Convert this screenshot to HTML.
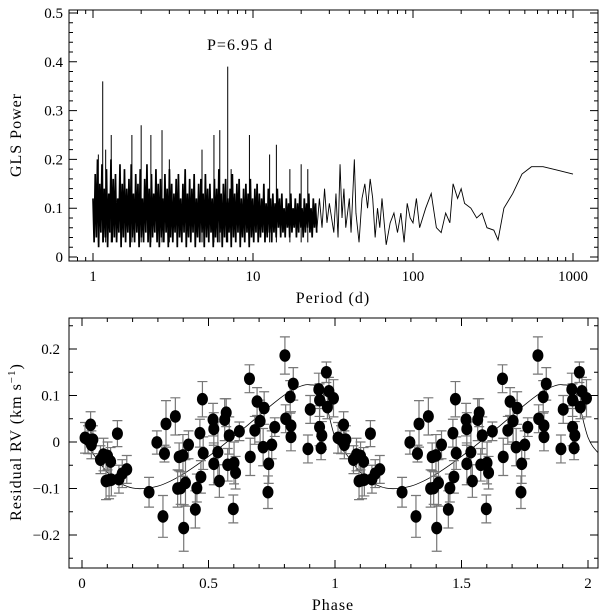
<!DOCTYPE html>
<html><head><meta charset="utf-8"><style>
html,body{margin:0;padding:0;background:#fff;}
svg{display:block;font-family:"Liberation Serif",serif;}
</style></head><body>
<svg id="chart" width="600" height="613" viewBox="0 0 600 613" xmlns="http://www.w3.org/2000/svg"></svg>
<script>
// ---------- Periodogram data ----------
const densePower = [0.12,0.03,0.17,0.04,0.2,0.02,0.15,0.05,0.19,0.03,0.14,0.04,0.18,0.02,0.13,0.05,0.2,0.03,0.16,0.04,
0.17,0.03,0.12,0.05,0.19,0.02,0.15,0.04,0.18,0.03,0.14,0.05,0.16,0.02,0.19,0.04,0.13,0.03,0.17,0.05,
0.15,0.02,0.18,0.04,0.12,0.03,0.16,0.05,0.19,0.03,0.14,0.02,0.17,0.04,0.13,0.05,0.18,0.03,0.15,0.02,
0.16,0.04,0.12,0.03,0.17,0.05,0.14,0.02,0.18,0.04,0.15,0.03,0.13,0.05,0.16,0.02,0.17,0.04,0.12,0.03,
0.15,0.05,0.18,0.02,0.13,0.04,0.16,0.03,0.14,0.05,0.17,0.02,0.12,0.04,0.15,0.03,0.16,0.05,0.13,0.02,
0.17,0.04,0.14,0.03,0.15,0.05,0.12,0.02,0.16,0.04,0.14,0.03,0.18,0.05,0.13,0.02,0.15,0.04,0.16,0.03,
0.12,0.05,0.14,0.02,0.17,0.04,0.13,0.03,0.15,0.05,0.16,0.02,0.12,0.04,0.14,0.03,0.15,0.05,0.13,0.02,
0.16,0.04,0.12,0.03,0.14,0.05,0.15,0.03,0.13,0.04,0.12,0.05,0.15,0.03,0.11,0.04,0.14,0.05,0.12,0.03,
0.13,0.05,0.11,0.04,0.14,0.06,0.12,0.04,0.13,0.05,0.10,0.04,0.12,0.06,0.11,0.04,0.13,0.05,0.10,0.06,
0.12,0.04,0.11,0.05,0.13,0.06,0.10,0.04,0.12,0.05,0.11,0.06,0.13,0.05,0.10,0.04,0.12,0.06,0.11,0.05];
const denseStart = 1, denseEnd = 25;
const sparsePeriods = [25,26,27,28,29,30,32,33,34,35,36,37,38,40,41,43,44,46,48,50,52,54,56,58,60,62,64,68,72,76,80,84,88,92,96,100,105,110,120,130,140,150,160,170,178,190,200,210,230,250,270,290,320,340,370,420,480,550,650,800,1000];
const sparsePowers = [0.05,0.12,0.06,0.14,0.07,0.11,0.05,0.13,0.04,0.19,0.08,0.14,0.06,0.12,0.05,0.2,0.09,0.03,0.12,0.15,0.1,0.16,0.12,0.04,0.1,0.06,0.12,0.025,0.07,0.09,0.05,0.09,0.03,0.11,0.08,0.07,0.12,0.06,0.1,0.13,0.06,0.05,0.09,0.07,0.15,0.12,0.14,0.11,0.1,0.08,0.09,0.06,0.055,0.035,0.1,0.13,0.17,0.185,0.185,0.178,0.17];
const spikePeriods = [1.08,1.15,1.2,1.3,1.75,2.0,2.3,2.7,3.0,4.8,5.7,6.2,6.95,7.3,9.5,12.7,14,17,20,22];
const spikePowers = [0.21,0.36,0.22,0.25,0.25,0.27,0.25,0.26,0.2,0.22,0.25,0.26,0.39,0.18,0.25,0.21,0.23,0.18,0.19,0.18];
const topYTicks = [0,0.1,0.2,0.3,0.4,0.5];
const topXTicks = [1,10,100,1000];

// ---------- RV data ----------
const phases = [.012,.024,.034,.037,.043,.073,.085,.095,.101,.107,.113,.116,.140,.146,.159,.177,.265,.296,.320,.326,.332,.369,.378,.384,.390,.399,.402,.409,.421,.448,.454,.466,.470,.476,.479,.518,.521,.521,.537,.543,.564,.570,.576,.582,.598,.601,.607,.622,.662,.665,.683,.692,.704,.716,.720,.735,.738,.750,.762,.802,.805,.823,.826,.826,.835,.893,.902,.936,.939,.939,.945,.948,.966,.970,.976,.994];
const rvs = [.009,.005,.037,-.006,.005,-.038,-.027,-.084,-.030,-.082,-.042,-.081,.018,-.080,-.068,-.059,-.108,-.001,-.160,-.025,.039,.055,-.100,-.032,-.099,-.029,-.185,-.088,-.006,-.145,-.099,.019,-.075,.092,-.024,.048,.028,-.047,-.022,-.084,.048,.063,-.049,.014,-.144,-.045,-.066,.023,.136,-.032,.025,.087,.045,-.011,.073,-.108,-.047,-.006,.032,.186,.050,.097,.035,.011,.125,-.015,.070,.113,.032,.090,-.013,.014,.150,.075,.109,.094];
const errs = [.033,.03,.028,.03,.03,.03,.035,.04,.03,.04,.03,.035,.028,.03,.03,.03,.032,.025,.045,.018,.05,.04,.04,.03,.035,.045,.05,.05,.03,.04,.03,.03,.035,.038,.035,.035,.035,.045,.065,.035,.045,.03,.035,.04,.03,.045,.035,.02,.03,.04,.03,.03,.045,.04,.035,.035,.042,.03,.02,.04,.03,.035,.03,.03,.035,.03,.03,.035,.04,.035,.025,.03,.022,.025,.03,.04];
const modelPhase = [0,0.05,0.1,0.15,0.2,0.25,0.3,0.35,0.4,0.45,0.5,0.55,0.6,0.65,0.7,0.75,0.8,0.85,0.9,0.95,1.0];
const modelRV = [0.01,-0.03,-0.065,-0.088,-0.099,-0.1,-0.095,-0.084,-0.069,-0.051,-0.031,-0.010,0.012,0.034,0.057,0.080,0.101,0.117,0.123,0.108,0.01];
const botYTicks = [-0.2,-0.1,0,0.1,0.2];
const botXTicks = [0,0.5,1,1.5,2];

const NS="http://www.w3.org/2000/svg";
const svg=document.getElementById('chart');
function mk(tag,attrs,parent){const e=document.createElementNS(NS,tag);for(const k in attrs)e.setAttribute(k,attrs[k]);(parent||svg).appendChild(e);return e;}

// ===== Top panel =====
const T={l:69,r:598,t:10,b:261};
const tx=p=>93+160*Math.log10(p);
const ty=v=>257-v*488;
const topG=mk('g',{});



let d='';
const n=densePower.length;
for(let i=0;i<n;i++){
  const p=denseStart*Math.pow(denseEnd/denseStart,i/(n-1));
  d+=(i?'L':'M')+tx(p).toFixed(2)+' '+ty(densePower[i]).toFixed(2);
}
const dl=mk('path',{d:d,fill:'none',stroke:'#000','stroke-width':1.7},topG);


let d2='M'+tx(denseEnd).toFixed(2)+' '+ty(densePower[n-1]).toFixed(2);
for(let i=0;i<sparsePeriods.length;i++) d2+='L'+tx(sparsePeriods[i]).toFixed(2)+' '+ty(sparsePowers[i]).toFixed(2);
const pl=mk('path',{d:d2,fill:'none',stroke:'#000','stroke-width':0.9},topG);


let sd='';
for(let i=0;i<spikePeriods.length;i++){const x=tx(spikePeriods[i]);sd+='M'+x+' '+ty(0.03)+'L'+x+' '+ty(spikePowers[i]);}
const sp=mk('path',{d:sd,stroke:'#000','stroke-width':1,fill:'none'},topG);



function frame(g,F,name){const r=mk('rect',{x:F.l,y:F.t,width:F.r-F.l,height:F.b-F.t,fill:'none',stroke:'#000','stroke-width':1},g);}
frame(topG,T,'periodogram-frame');
let tk='';
for(let v=0;v<=0.5001;v+=0.02){const y=ty(v);const L=(Math.abs(v*10-Math.round(v*10))<1e-6)?8:4;tk+=`M${T.l} ${y}h${L}M${T.r} ${y}h${-L}`;}
for(let dec=0.1;dec<=1000;dec*=10){for(let m=1;m<10;m++){const p=dec*m;const x=tx(p);if(x<T.l||x>T.r)continue;const L=m===1?8:4;tk+=`M${x} ${T.b}v${-L}M${x} ${T.t}v${L}`;}}
mk('path',{d:tk,stroke:'#000','stroke-width':1,fill:'none'},topG);
topYTicks.forEach(v=>{const t=mk('text',{x:T.l-6,y:ty(v)+5,'text-anchor':'end','font-size':15},topG);t.textContent=String(v);});
topXTicks.forEach(v=>{const t=mk('text',{x:tx(v),y:281,'text-anchor':'middle','font-size':15},topG);t.textContent=String(v);});
let a=mk('text',{x:333,y:303,'text-anchor':'middle','font-size':16,'letter-spacing':1},topG);a.textContent='Period (d)';
a=mk('text',{x:0,y:0,transform:'translate(21,135) rotate(-90)','text-anchor':'middle','font-size':16,'letter-spacing':1},topG);a.textContent='GLS Power';
a=mk('text',{x:240,y:50,'text-anchor':'middle','font-size':16,'letter-spacing':1},topG);a.textContent='P=6.95 d';

// ===== Bottom panel =====
const B={l:69,r:598,t:318,b:568};
const bx=p=>82+253*p;
const by=v=>442-v*465;
const botG=mk('g',{});


const clip=mk('clipPath',{id:'bclip'});mk('rect',{x:B.l,y:B.t,width:B.r-B.l,height:B.b-B.t},clip);
const inner=mk('g',{'clip-path':'url(#bclip)'},botG);
const mp=[];
for(let c=0;c<3;c++)for(let i=0;i<modelPhase.length;i++){if(c>0&&i===0)continue;mp.push([bx(modelPhase[i]+c),by(modelRV[i])]);}
let md='M'+mp[0][0]+' '+mp[0][1];
for(let i=0;i<mp.length-1;i++){const p0=mp[Math.max(0,i-1)],p1=mp[i],p2=mp[i+1],p3=mp[Math.min(mp.length-1,i+2)];
md+=`C${p1[0]+(p2[0]-p0[0])/6} ${p1[1]+(p2[1]-p0[1])/6} ${p2[0]-(p3[0]-p1[0])/6} ${p2[1]-(p3[1]-p1[1])/6} ${p2[0]} ${p2[1]}`;}
const ml=mk('path',{d:md,fill:'none',stroke:'#000','stroke-width':0.8},inner);


for(let c=0;c<2;c++){
  for(let i=0;i<phases.length;i++){
    const x=bx(phases[i]+c),y=by(rvs[i]),e=errs[i]*465;
    const eb=mk('path',{d:`M${x} ${y-e}V${y+e}M${x-5} ${y-e}h10M${x-5} ${y+e}h10`,stroke:'#777','stroke-width':1.2,fill:'none'},inner);
    
    
  }
  for(let i=0;i<phases.length;i++){
    const pt=mk('ellipse',{cx:bx(phases[i]+c),cy:by(rvs[i]),rx:5.5,ry:6.3,fill:'#000'},inner);
    
    
  }
}
frame(botG,B,'rv-frame');
tk='';
for(let k=-5;k<=5;k++){const v=k*0.05;const y=by(v);if(y<B.t||y>B.b)continue;const L=(k%2===0)?8:4;tk+=`M${B.l} ${y}h${L}M${B.r} ${y}h${-L}`;}
for(let k=0;k<=20;k++){const x=bx(k*0.1);const L=(k%5===0)?8:4;tk+=`M${x} ${B.b}v${-L}M${x} ${B.t}v${L}`;}
mk('path',{d:tk,stroke:'#000','stroke-width':1,fill:'none'},botG);
botYTicks.forEach(v=>{const t=mk('text',{x:B.l-9,y:by(v)+5,'text-anchor':'end','font-size':15},botG);t.textContent=v===0?'0':(v<0?'\u2212'+Math.abs(v):String(v));});
botXTicks.forEach(v=>{const t=mk('text',{x:bx(v),y:588,'text-anchor':'middle','font-size':15},botG);t.textContent=String(v);});
a=mk('text',{x:333,y:610,'text-anchor':'middle','font-size':16,'letter-spacing':1},botG);a.textContent='Phase';
a=mk('text',{x:0,y:0,transform:'translate(21,442) rotate(-90)','text-anchor':'middle','font-size':16,'letter-spacing':1},botG);
a.innerHTML='Residual RV (km s<tspan dy="-6" font-size="11">\u22121</tspan><tspan dy="6">)</tspan>';

</script>
</body></html>
